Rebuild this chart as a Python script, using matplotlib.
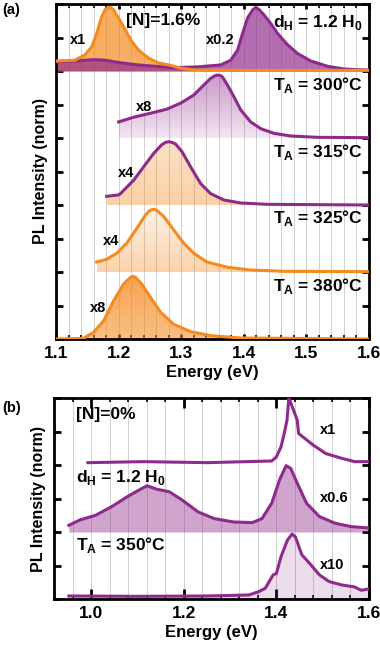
import numpy as np
import matplotlib
matplotlib.use("Agg")
import matplotlib.pyplot as plt
from matplotlib.colors import to_rgb

plt.rcParams['font.family'] = ['Liberation Sans', 'DejaVu Sans']
plt.rcParams['font.weight'] = 'bold'
plt.rcParams['mathtext.fontset'] = 'custom'
plt.rcParams['mathtext.rm'] = 'Liberation Sans:bold'
plt.rcParams['mathtext.bf'] = 'Liberation Sans:bold'

ORANGE = '#F58A1F'
PURPLE = '#8E2A8C'

# ---- panel (a) data, energy (eV) / normalised intensity ----
# top stripe, [N]=1.6 %, x1 (orange)
a1_or_e = [1.100, 1.130, 1.146, 1.157, 1.165, 1.173, 1.179, 1.184, 1.188, 1.192, 1.200,
           1.211, 1.221, 1.232, 1.248, 1.264, 1.280, 1.301, 1.323, 1.400, 1.500, 1.600]
a1_or_i = [0.15, 0.16, 0.24, 0.36, 0.56, 0.81, 0.925, 0.95, 0.945, 0.91, 0.79,
           0.61, 0.44, 0.31, 0.19, 0.12, 0.09, 0.04, 0.015, 0.01, 0.01, 0.01]
# top stripe, dH = 1.2 H0, x0.2 (purple)
a1_pu_e = [1.100, 1.130, 1.162, 1.179, 1.205, 1.232, 1.259, 1.286, 1.323, 1.331,
           1.363, 1.379, 1.390, 1.398, 1.406, 1.414, 1.419, 1.424, 1.432, 1.443,
           1.454, 1.470, 1.486, 1.507, 1.534, 1.560, 1.592, 1.600]
a1_pu_i = [0.14, 0.15, 0.17, 0.16, 0.12, 0.09, 0.07, 0.05, 0.06, 0.065,
           0.09, 0.16, 0.31, 0.56, 0.79, 0.91, 0.95, 0.92, 0.84, 0.71,
           0.56, 0.39, 0.26, 0.15, 0.07, 0.03, 0.015, 0.015]
# TA = 300 C, x8
a2_e = [1.200, 1.224, 1.251, 1.277, 1.299, 1.320, 1.336, 1.347, 1.353, 1.358, 1.363,
        1.366, 1.374, 1.384, 1.395, 1.411, 1.427, 1.448, 1.475, 1.518, 1.600]
a2_i = [0.24, 0.31, 0.37, 0.43, 0.52, 0.64, 0.79, 0.89, 0.925, 0.94, 0.93,
        0.91, 0.79, 0.62, 0.42, 0.24, 0.14, 0.07, 0.03, 0.01, 0.005]
# TA = 315 C, x4
a3_e = [1.181, 1.200, 1.203, 1.224, 1.240, 1.256, 1.269, 1.275, 1.280, 1.285, 1.291, 1.301,
        1.315, 1.331, 1.347, 1.368, 1.395, 1.438, 1.600]
a3_i = [0.13, 0.15, 0.17, 0.37, 0.57, 0.77, 0.90, 0.935, 0.945, 0.935, 0.91, 0.80,
        0.57, 0.32, 0.17, 0.075, 0.03, 0.01, 0.0]
# TA = 325 C, x4
a4_e = [1.165, 1.181, 1.197, 1.213, 1.229, 1.243, 1.249, 1.253, 1.257, 1.261, 1.272, 1.288,
        1.304, 1.320, 1.341, 1.374, 1.411, 1.464, 1.600]
a4_i = [0.15, 0.19, 0.28, 0.43, 0.65, 0.85, 0.91, 0.93, 0.935, 0.92, 0.83, 0.63,
        0.43, 0.28, 0.15, 0.07, 0.03, 0.01, 0.005]
# TA = 380 C, x8
a5_e = [1.100, 1.144, 1.160, 1.176, 1.192, 1.208, 1.219, 1.223, 1.227, 1.237, 1.251,
        1.267, 1.288, 1.315, 1.347, 1.395, 1.600]
a5_i = [0.0, 0.01, 0.10, 0.27, 0.57, 0.82, 0.92, 0.935, 0.92, 0.82, 0.62,
        0.40, 0.22, 0.11, 0.05, 0.015, 0.0]

# ---- panel (b) data ----
# [N]=0 %, x1
b1_e = [0.993, 1.114, 1.252, 1.390, 1.400, 1.410, 1.417, 1.423, 1.427, 1.437,
        1.445, 1.448, 1.479, 1.507, 1.541, 1.569, 1.597]
b1_i = [0.035, 0.05, 0.035, 0.06, 0.12, 0.27, 0.47, 0.67, 1.0, 0.82,
        0.67, 0.47, 0.30, 0.17, 0.10, 0.05, 0.05]
# dH = 1.2 H0, x0.6
b2_e = [0.952, 0.976, 1.010, 1.045, 1.079, 1.107, 1.121, 1.141, 1.169, 1.196,
        1.231, 1.266, 1.307, 1.348, 1.369, 1.390, 1.407, 1.421, 1.431, 1.445,
        1.465, 1.493, 1.527, 1.562, 1.600]
b2_i = [0.10, 0.18, 0.25, 0.38, 0.53, 0.64, 0.69, 0.64, 0.60, 0.48,
        0.30, 0.20, 0.15, 0.14, 0.20, 0.43, 0.78, 0.99, 0.95, 0.73,
        0.43, 0.23, 0.13, 0.08, 0.06]
# TA = 350 C, x10
b3_e = [0.952, 1.100, 1.250, 1.341, 1.362, 1.376, 1.393, 1.400, 1.410, 1.424,
        1.434, 1.441, 1.455, 1.472, 1.493, 1.514, 1.541, 1.569, 1.583, 1.600]
b3_i = [0.045, 0.04, 0.045, 0.06, 0.11, 0.16, 0.36, 0.38, 0.63, 0.88,
        0.97, 0.93, 0.66, 0.53, 0.36, 0.26, 0.21, 0.18, 0.13, 0.15]


def grad_fill(ax, e, i, base, color, a_top, a_bot, z=1):
    e = np.asarray(e)
    y = base + np.asarray(i)
    poly = ax.fill_between(e, base, y, color='none', lw=0)
    path = poly.get_paths()[0]
    rgba = np.zeros((100, 1, 4))
    rgba[..., :3] = to_rgb(color)
    rgba[:, 0, 3] = np.linspace(a_top, a_bot, 100)
    im = ax.imshow(rgba, extent=[e.min(), e.max(), base, base + 1],
                   origin='upper', aspect='auto', zorder=z)
    im.set_clip_path(path, transform=ax.transData)


def style_axes(ax, xlim, nstripe, major, minor):
    ax.set_xlim(*xlim)
    ax.set_ylim(0, nstripe)
    ax.set_xticks(np.arange(round(xlim[0] / major) * major, xlim[1] + 1e-6, major))
    ax.set_xticks(np.arange(xlim[0] - (xlim[0] % minor), xlim[1] + 1e-6, minor), minor=True)
    ax.set_yticks(np.arange(0, nstripe + 0.01, 0.5))
    ax.tick_params(axis='y', direction='in', length=5, width=2,
                   left=True, right=True, labelleft=False)
    ax.tick_params(axis='x', which='minor', direction='in', length=3, width=1.2,
                   top=True, bottom=True)
    ax.tick_params(axis='x', direction='in', width=2, top=True, bottom=True,
                   labelsize=12.5, pad=5)
    ax.grid(axis='x', which='both', color='#d0d0d0', lw=0.7, zorder=0)
    ax.set_axisbelow(True)
    for s in ax.spines.values():
        s.set_linewidth(2)
    ax.set_xlabel('Energy (eV)', fontsize=12, fontweight='bold', labelpad=3)
    ax.set_ylabel('PL Intensity (norm)', fontsize=11.5, fontweight='bold', labelpad=6)


fig = plt.figure(figsize=(3.8, 6.48), dpi=100)
ax_a = fig.add_axes([56 / 380, 1 - 339 / 648, 313 / 380, 335 / 648])
ax_b = fig.add_axes([54 / 380, 1 - 599 / 648, 315 / 380, 201 / 648])

lw = 2.2
# (a) top stripe, two overlapping filled curves
ax_a.fill_between(a1_or_e, 4, 4 + np.asarray(a1_or_i), color=ORANGE, alpha=0.7, lw=0, zorder=1)
ax_a.fill_between(a1_pu_e, 4, 4 + np.asarray(a1_pu_i), color=PURPLE, alpha=0.68, lw=0, zorder=2)
ax_a.plot(a1_pu_e, 4 + np.asarray(a1_pu_i), color=PURPLE, lw=lw, zorder=3)
ax_a.plot(a1_or_e, 4 + np.asarray(a1_or_i), color=ORANGE, lw=lw, zorder=4)

grad_fill(ax_a, a2_e, a2_i, 3, PURPLE, 0.5, 0.12)
ax_a.plot(a2_e, 3 + np.asarray(a2_i), color=PURPLE, lw=lw, zorder=3)
grad_fill(ax_a, a3_e, a3_i, 2, ORANGE, 0.25, 0.4)
ax_a.plot(a3_e, 2 + np.asarray(a3_i), color=PURPLE, lw=lw, zorder=3)
grad_fill(ax_a, a4_e, a4_i, 1, ORANGE, 0.1, 0.38)
ax_a.plot(a4_e, 1 + np.asarray(a4_i), color=ORANGE, lw=lw, zorder=3)
grad_fill(ax_a, a5_e, a5_i, 0, ORANGE, 0.8, 0.55)
ax_a.plot(a5_e, np.asarray(a5_i), color=ORANGE, lw=lw, zorder=3)

style_axes(ax_a, (1.1, 1.6), 5, 0.1, 0.02)

tk = dict(fontsize=12.5, fontweight='bold', va='center', zorder=5)
sk = dict(fontsize=10.5, fontweight='bold', va='center', zorder=5)
ax_a.text(1.271, 4.76, '[N]=1.6%', ha='center', **tk)
ax_a.text(1.122, 4.46, 'x1', ha='left', **sk)
ax_a.text(1.339, 4.46, 'x0.2', ha='left', **sk)
ax_a.text(1.590, 4.73, r'd$_\mathrm{H}$ = 1.2 H$_\mathrm{0}$', ha='right', **tk)
ax_a.text(1.590, 3.79, r'T$_\mathrm{A}$ = 300°C', ha='right', **tk)
ax_a.text(1.227, 3.46, 'x8', ha='left', **sk)
ax_a.text(1.590, 2.79, r'T$_\mathrm{A}$ = 315°C', ha='right', **tk)
ax_a.text(1.199, 2.48, 'x4', ha='left', **sk)
ax_a.text(1.590, 1.81, r'T$_\mathrm{A}$ = 325°C', ha='right', **tk)
ax_a.text(1.175, 1.46, 'x4', ha='left', **sk)
ax_a.text(1.590, 0.79, r'T$_\mathrm{A}$ = 380°C', ha='right', **tk)
ax_a.text(1.154, 0.46, 'x8', ha='left', **sk)

# (b)
ax_b.plot(b1_e, 2 + np.asarray(b1_i), color=PURPLE, lw=lw, zorder=3)
ax_b.fill_between(b2_e, 1, 1 + np.asarray(b2_i), color=PURPLE, alpha=0.42, lw=0, zorder=1)
ax_b.plot(b2_e, 1 + np.asarray(b2_i), color=PURPLE, lw=lw, zorder=3)
ax_b.fill_between(b3_e, 0, np.asarray(b3_i), color=PURPLE, alpha=0.16, lw=0, zorder=1)
ax_b.plot(b3_e, np.asarray(b3_i), color=PURPLE, lw=lw, zorder=3)

style_axes(ax_b, (0.95, 1.6), 3, 0.2, 0.04)
ax_b.set_xticks([1.0, 1.2, 1.4, 1.6])
ax_b.set_xticks(np.arange(0.96, 1.601, 0.04), minor=True)
ax_b.tick_params(axis='x', which='major', length=7)

ax_b.text(0.968, 2.75, '[N]=0%', ha='left', **tk)
ax_b.text(1.494, 2.52, 'x1', ha='left', **sk)
ax_b.text(0.968, 1.81, r'd$_\mathrm{H}$ = 1.2 H$_\mathrm{0}$', ha='left', **tk)
ax_b.text(1.494, 1.51, 'x0.6', ha='left', **sk)
ax_b.text(0.968, 0.81, r'T$_\mathrm{A}$ = 350°C', ha='left', **tk)
ax_b.text(1.494, 0.51, 'x10', ha='left', **sk)

fig.text(2 / 380, 1 - 10 / 648, '(a)', fontsize=10.5, fontweight='bold', va='center')
fig.text(2 / 380, 1 - 408 / 648, '(b)', fontsize=10.5, fontweight='bold', va='center')

fig.savefig('out.png', dpi=100)
